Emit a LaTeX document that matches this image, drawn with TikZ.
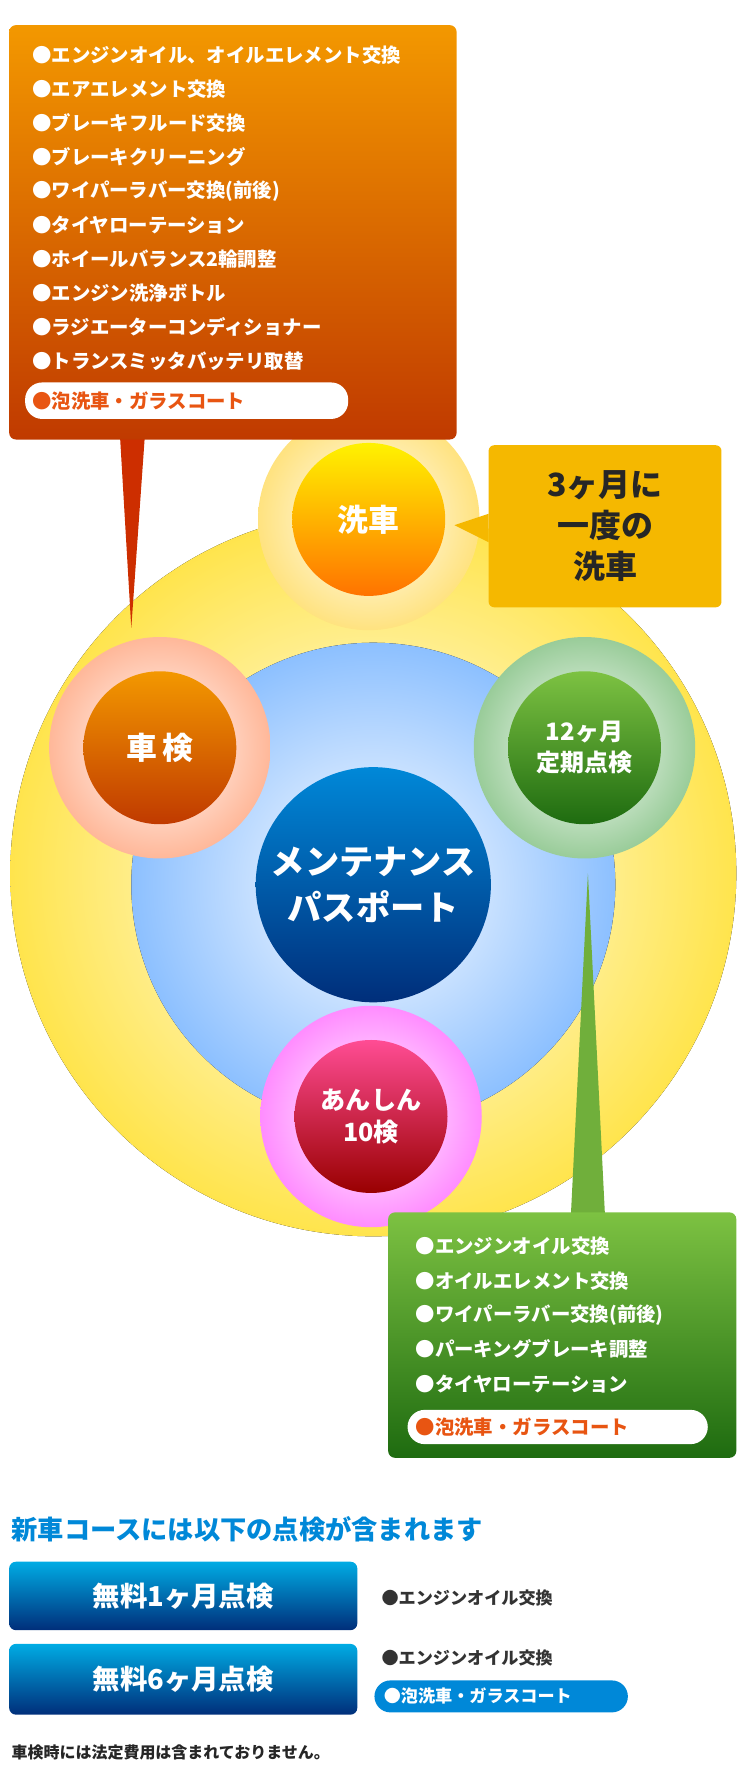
\documentclass[tikz,border=0pt]{standalone}
\usepackage{fontspec}
\setmainfont{Noto Sans CJK JP}
\usetikzlibrary{shapes.geometric}
\definecolor{orA}{HTML}{F39800}
\definecolor{orB}{HTML}{C03A00}
\definecolor{grA}{HTML}{7DC242}
\definecolor{grB}{HTML}{1E6B10}
\definecolor{bl}{HTML}{0088D8}
\definecolor{blD}{HTML}{002E7A}
\definecolor{yl}{HTML}{F5B800}
\definecolor{txo}{HTML}{E85512}
\tikzset{
 itm/.style={anchor=west,text=white,font=\bfseries\fontsize{17}{20}\selectfont,inner sep=0},
 glow/.style={circle,minimum size=194pt,inner sep=0},
 core/.style={circle,minimum size=134pt,inner sep=0,text=white,align=center,font=\bfseries\fontsize{27}{30}\selectfont},
 pill/.style={rounded corners=15pt,fill=white},
 btn/.style={rounded corners=6pt,top color=bl!70!cyan,bottom color=blD,text=white,font=\bfseries\fontsize{24}{28}\selectfont}
}
\begin{document}
\begin{tikzpicture}[x=1pt,y=-1pt]
\useasboundingbox (0,0) rectangle (655,1568);
% big glow
\fill[inner color=white,outer color=yellow!70!orange!70] (327,765) circle (318);
% blue circle
\fill[inner color=white,outer color=cyan!45!blue!45] (327,775) circle (212);
% pointers
\fill[orB!80!red] (105,380) -- (127,380) -- (115,550) -- cycle;
\fill[grA!90!black] (500,1066) -- (530,1066) -- (515,765) -- cycle;
% glows
\node[glow,inner color=white,outer color=yellow!55!orange!50] (gw) at (323,455) {};
\node[glow,inner color=white,outer color=orange!60!red!40] (gs) at (140,655) {};
\node[glow,inner color=white,outer color=green!50!black!40] (gt) at (512,655) {};
\node[glow,inner color=white,outer color=magenta!45] (ga) at (325,978) {};
% cores
\node[core,top color=yellow!90!orange,bottom color=orange!90!red] (wash) at (323,455) {洗車};
\node[core,top color=orA,bottom color=orB] (shaken) at (140,655) {車\,検};
\node[core,top color=grA,bottom color=grB,font=\bfseries\fontsize{21}{27}\selectfont] (teiki) at (512,655) {12ヶ月\\定期点検};
\node[core,top color=red!60!magenta!70,bottom color=red!60!black,font=\bfseries\fontsize{22}{28}\selectfont] (anshin) at (325,978) {あんしん\\10検};
\node[circle,minimum size=206pt,inner sep=0,top color=bl,bottom color=blD,text=white,align=center,font=\bfseries\fontsize{30}{40}\selectfont] (mp) at (327,775) {メンテナンス\\パスポート};
% callout wash
\fill[yl] (428,450) -- (398,460) -- (428,475) -- cycle;
\node[rounded corners=5pt,fill=yl,minimum width=204pt,minimum height=142pt,align=center,font=\bfseries\fontsize{28}{36}\selectfont,text=black!85] (c3) at (530,461) {3ヶ月に\\一度の\\洗車};
% orange box
\node[rounded corners=6pt,top color=orA,bottom color=orB,minimum width=392pt,minimum height=363pt] (ob) at (204,203.5) {};
\foreach \t [count=\i from 0] in {エンジンオイル、オイルエレメント交換,エアエレメント交換,ブレーキフルード交換,ブレーキクリーニング,ワイパーラバー交換(前後),タイヤローテーション,ホイールバランス2輪調整,エンジン洗浄ボトル,ラジエーターコンディショナー,トランスミッタバッテリ取替}
  \node[itm] at (28,48+29.8*\i) {●\t};
\node[pill,minimum width=283pt,minimum height=32pt] (op) at (163.5,351) {};
\node[itm,text=txo] at (28,351) {●泡洗車・ガラスコート};
% green box
\node[rounded corners=6pt,top color=grA,bottom color=grB,minimum width=305pt,minimum height=215pt] (gb) at (492.5,1169.5) {};
\foreach \t [count=\i from 0] in {エンジンオイル交換,オイルエレメント交換,ワイパーラバー交換(前後),パーキングブレーキ調整,タイヤローテーション}
  \node[itm] at (364,1092+30*\i) {●\t};
\node[pill,minimum width=263pt,minimum height=30pt] (gp) at (488.5,1250) {};
\node[itm,text=txo] at (364,1250) {●泡洗車・ガラスコート};
% bottom
\node[anchor=west,inner sep=0,text=bl,font=\bfseries\fontsize{23}{26}\selectfont] (title) at (10,1340) {新車コースには以下の点検が含まれます};
\node[btn,minimum width=305pt,minimum height=60pt] (b1) at (160.5,1398) {無料1ヶ月点検};
\node[btn,minimum width=305pt,minimum height=62pt] (b2) at (160.5,1471) {無料6ヶ月点検};
\node[anchor=west,inner sep=0,text=black!80,font=\bfseries\fontsize{15}{18}\selectfont] (e1) at (334,1400) {●エンジンオイル交換};
\node[anchor=west,inner sep=0,text=black!80,font=\bfseries\fontsize{15}{18}\selectfont] (e2) at (334,1452) {●エンジンオイル交換};
\node[rounded corners=14pt,fill=bl,minimum width=222pt,minimum height=28pt] (bp) at (439,1486) {};
\node[anchor=west,inner sep=0,text=white,font=\bfseries\fontsize{15}{18}\selectfont] at (336,1486) {●泡洗車・ガラスコート};
\node[anchor=west,inner sep=0,text=black!85,font=\bfseries\fontsize{14}{16}\selectfont] (foot) at (10,1535) {車検時には法定費用は含まれておりません。};
\end{tikzpicture}
\end{document}
